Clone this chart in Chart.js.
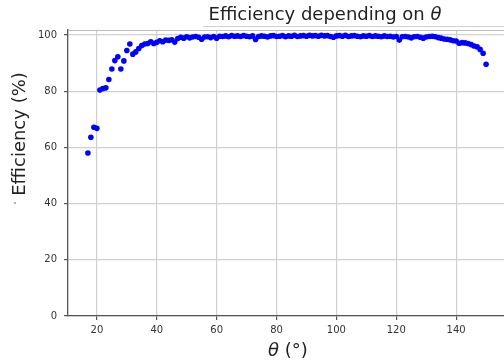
<!DOCTYPE html>
<html>
<head>
<meta charset="utf-8">
<script src="https://cdn.jsdelivr.net/npm/chart.js@4/dist/chart.umd.min.js"></script>
<style>
  html, body { margin: 0; padding: 0; background: #fff; overflow: hidden; }
  canvas { display: block; }
</style>
</head>
<body>
<canvas id="efficiencyChart" width="510" height="364"></canvas>
<script>
// angle (deg) and measured efficiency (%)
const thetaDeg = [
    17, 18, 19, 20, 21, 22, 23, 24, 25, 26, 27, 28, 29, 30, 31, 32, 33, 34, 35, 36,
    37, 38, 39, 40, 41, 42, 43, 44, 45, 46, 47, 48, 49, 50, 51, 52, 53, 54, 55, 56,
    57, 58, 59, 60, 61, 62, 63, 64, 65, 66, 67, 68, 69, 70, 71, 72, 73, 74, 75, 76,
    77, 78, 79, 80, 81, 82, 83, 84, 85, 86, 87, 88, 89, 90, 91, 92, 93, 94, 95, 96,
    97, 98, 99, 100, 101, 102, 103, 104, 105, 106, 107, 108, 109, 110, 111, 112, 113, 114, 115, 116,
    117, 118, 119, 120, 121, 122, 123, 124, 125, 126, 127, 128, 129, 130, 131, 132, 133, 134, 135, 136,
    137, 138, 139, 140, 141, 142, 143, 144, 145, 146, 147, 148, 149, 150
];
const efficiency = [
    58.0, 63.6, 67.2, 66.8, 80.4, 81.0, 81.2, 84.2, 87.9, 90.9, 92.3, 87.9, 90.8, 94.5, 96.8, 93.2, 94.0, 95.2, 96.3, 96.8,
    97.0, 97.6, 97.0, 97.4, 98.0, 97.6, 98.2, 98.1, 98.3, 97.5, 98.8, 99.2, 98.9, 99.4, 99.0, 99.3, 99.5, 99.2, 98.5, 99.3,
    99.4, 99.1, 99.5, 98.9, 99.6, 99.5, 99.7, 99.4, 99.8, 99.6, 99.7, 99.5, 99.8, 99.6, 99.4, 99.7, 98.4, 99.5, 99.7, 99.6,
    99.3, 99.7, 99.8, 99.5, 99.6, 99.8, 99.4, 99.7, 99.6, 99.9, 99.5, 99.7, 99.8, 99.6, 99.9, 99.7, 99.8, 99.6, 99.9, 99.7,
    99.8, 99.5, 99.2, 99.7, 99.8, 99.6, 99.9, 99.5, 99.7, 99.8, 99.6, 99.4, 99.7, 99.6, 99.8, 99.5, 99.7, 99.6, 99.4, 99.7,
    99.5, 99.6, 99.3, 99.5, 98.2, 99.4, 99.5, 99.3, 99.0, 99.4, 99.5, 99.2, 98.9, 99.3, 99.5, 99.6, 99.4, 99.1, 98.9, 98.6,
    98.5, 98.3, 98.0, 97.9, 97.1, 97.3, 97.2, 97.0, 96.6, 96.1, 95.8, 94.9, 93.5, 89.6
];
const xTicks = [20, 40, 60, 80, 100, 120, 140];
const yTicks = [0, 20, 40, 60, 80, 100];

const FONT = '"DejaVu Sans", "Liberation Sans", sans-serif';

// title and axis labels (theta in italics)
const labelsPlugin = {
    id: 'labels',
    afterDraw(chart) {
        const ctx = chart.ctx;
        const area = chart.chartArea;
        ctx.save();
        ctx.fillStyle = '#222';
        ctx.textBaseline = 'alphabetic';
        ctx.textAlign = 'left';

        // title, centred at x = 325
        ctx.font = '18px ' + FONT;
        const head = 'Efficiency depending on ';
        const w = ctx.measureText(head).width;
        ctx.font = 'italic 18px ' + FONT;
        const tw = ctx.measureText('θ').width;
        const tx = 325 - (w + tw) / 2;
        ctx.font = '18px ' + FONT;
        ctx.fillText(head, tx, 20);
        ctx.font = 'italic 18px ' + FONT;
        ctx.fillText('θ', tx + w, 20);

        // thin rule under the title, and top spine
        ctx.strokeStyle = '#cfcfcf';
        ctx.lineWidth = 1;
        ctx.beginPath();
        ctx.moveTo(203, 26.5);
        ctx.lineTo(chart.width, 26.5);
        ctx.stroke();
        ctx.strokeStyle = '#bdbdbd';
        ctx.beginPath();
        ctx.moveTo(area.left, area.top + 0.5);
        ctx.lineTo(area.right, area.top + 0.5);
        ctx.stroke();

        // x label
        ctx.font = 'italic 18px ' + FONT;
        const th = ctx.measureText('θ').width;
        ctx.font = '18px ' + FONT;
        const rest = ' (°)';
        const rw = ctx.measureText(rest).width;
        const x0 = 288 - (th + rw) / 2;
        ctx.font = 'italic 18px ' + FONT;
        ctx.fillText('θ', x0, 356);
        ctx.font = '18px ' + FONT;
        ctx.fillText(rest, x0 + th, 356);

        // y label
        ctx.translate(25, 134);
        ctx.rotate(-Math.PI / 2);
        ctx.textAlign = 'center';
        ctx.fillText('Efficiency (%)', 0, 0);
        ctx.restore();

        // small mark left of the label
        ctx.save();
        ctx.fillStyle = '#999';
        ctx.beginPath();
        ctx.arc(15, 203, 1, 0, Math.PI * 2);
        ctx.fill();
        ctx.restore();
    }
};

new Chart(
    document.querySelector('#efficiencyChart'),
    {
        type: 'scatter',
        data: {
            datasets: [
                {
                    data: thetaDeg.map((t, i) => ({ x: t, y: efficiency[i] })),
                    backgroundColor: '#0000ff',
                    borderWidth: 0,
                    pointRadius: 2.8,
                }
            ]
        },
        options: {
            responsive: false,
            animation: false,
            layout: {
                padding: { left: 0, top: 30, right: 3, bottom: 0 }
            },
            scales: {
                x: {
                    type: 'linear',
                    min: 10.35,
                    max: 156.65,
                    afterBuildTicks: scale => {
                        scale.ticks = xTicks.map(v => ({ value: v }));
                    },
                    afterFit: scale => {
                        scale.height = 48;
                    },
                    ticks: {
                        color: '#333',
                        font: { family: FONT, size: 10 },
                        padding: 4,
                        maxRotation: 0,
                    },
                    grid: {
                        color: '#d0d0d0',
                        lineWidth: 1.2,
                        tickColor: '#555',
                        tickLength: 4,
                    },
                    border: { color: '#555', width: 1.3 }
                },
                y: {
                    min: 0,
                    max: 101.8,
                    afterBuildTicks: scale => {
                        scale.ticks = yTicks.map(v => ({ value: v }));
                    },
                    afterFit: scale => {
                        scale.width = 68;
                    },
                    ticks: {
                        color: '#333',
                        font: { family: FONT, size: 10 },
                        padding: 7,
                    },
                    grid: {
                        color: '#d0d0d0',
                        lineWidth: 1.2,
                        tickColor: '#555',
                        tickLength: 4,
                    },
                    border: { color: '#555', width: 1.3 }
                }
            },
            plugins: {
                legend: { display: false },
                tooltip: { enabled: false }
            }
        },
        plugins: [labelsPlugin]
    }
);
</script>
</body>
</html>
